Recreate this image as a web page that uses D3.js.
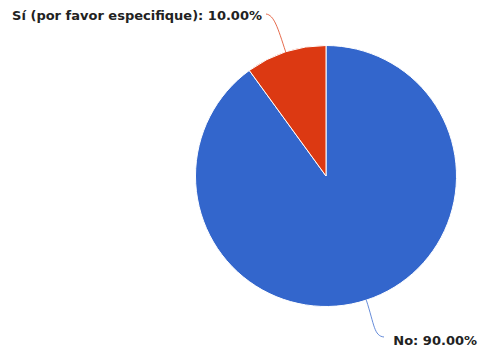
<!DOCTYPE html>
<html>
<head>
<meta charset="utf-8">
<script src="https://cdn.jsdelivr.net/npm/d3@7"></script>
<style>
  html, body { margin: 0; padding: 0; background: #fff; }
  svg { display: block; }
  .label { font-family: "DejaVu Sans", sans-serif; font-weight: bold; font-size: 13px; fill: #222; }
</style>
</head>
<body>
<div id="chart"></div>
<script>
// answers and their share of responses
var categories = ['No', 'Sí (por favor especifique)'];
var values = [90, 10];
var labels = ['No: 90.00%', 'Sí (por favor especifique): 10.00%'];
var colors = ['#3366cc', '#dc3912'];

var width = 479, height = 351;
var cx = 326, cy = 176, radius = 130.5;

var svg = d3.select('#chart').append('svg')
  .attr('width', width)
  .attr('height', height);

var g = svg.append('g')
  .attr('transform', 'translate(' + cx + ',' + cy + ')');

// blue first, clockwise from 12 o'clock; red fills the rest
var pie = d3.pie().sort(null).value(function(d) { return d; });
var arcs = pie(values);

var arc = d3.arc().innerRadius(0).outerRadius(radius);

g.selectAll('path.slice')
  .data(arcs)
  .enter().append('path')
  .attr('class', 'slice')
  .attr('d', arc)
  .attr('fill', function(d, i) { return colors[i]; })
  .attr('stroke', '#fff')
  .attr('stroke-width', 1);

// where each leader line ends, relative to pie centre
// (text anchored at its outer end so it stays inside the window)
var labelAnchors = [
  { x: 384 - cx, y: 337 - cy, tx: 477 - cx, ty: 345 - cy, anchor: 'end' },
  { x: 266 - cx, y: 14 - cy, tx: 262 - cx, ty: 20 - cy, anchor: 'end' }
];

function point(a, r) {
  return [Math.sin(a) * r, -Math.cos(a) * r];
}

arcs.forEach(function(d, i) {
  var mid = (d.startAngle + d.endAngle) / 2;
  var p0 = point(mid, radius);
  var p1 = point(mid, radius + 26);
  var lab = labelAnchors[i];
  var p2 = [lab.x + (p1[0] < lab.x ? -10 : 8), lab.y + (p1[1] > lab.y ? 1 : -1)];
  var path = d3.path();
  path.moveTo(p0[0], p0[1]);
  path.bezierCurveTo(p1[0], p1[1], p2[0], p2[1], lab.x, lab.y);
  g.append('path')
    .attr('d', path.toString())
    .attr('fill', 'none')
    .attr('stroke', colors[i])
    .attr('stroke-opacity', 0.75)
    .attr('stroke-width', 1);

  g.append('text')
    .attr('class', 'label')
    .attr('x', lab.tx)
    .attr('y', lab.ty)
    .attr('text-anchor', lab.anchor)
    .text(labels[i]);
});
</script>
</body>
</html>
